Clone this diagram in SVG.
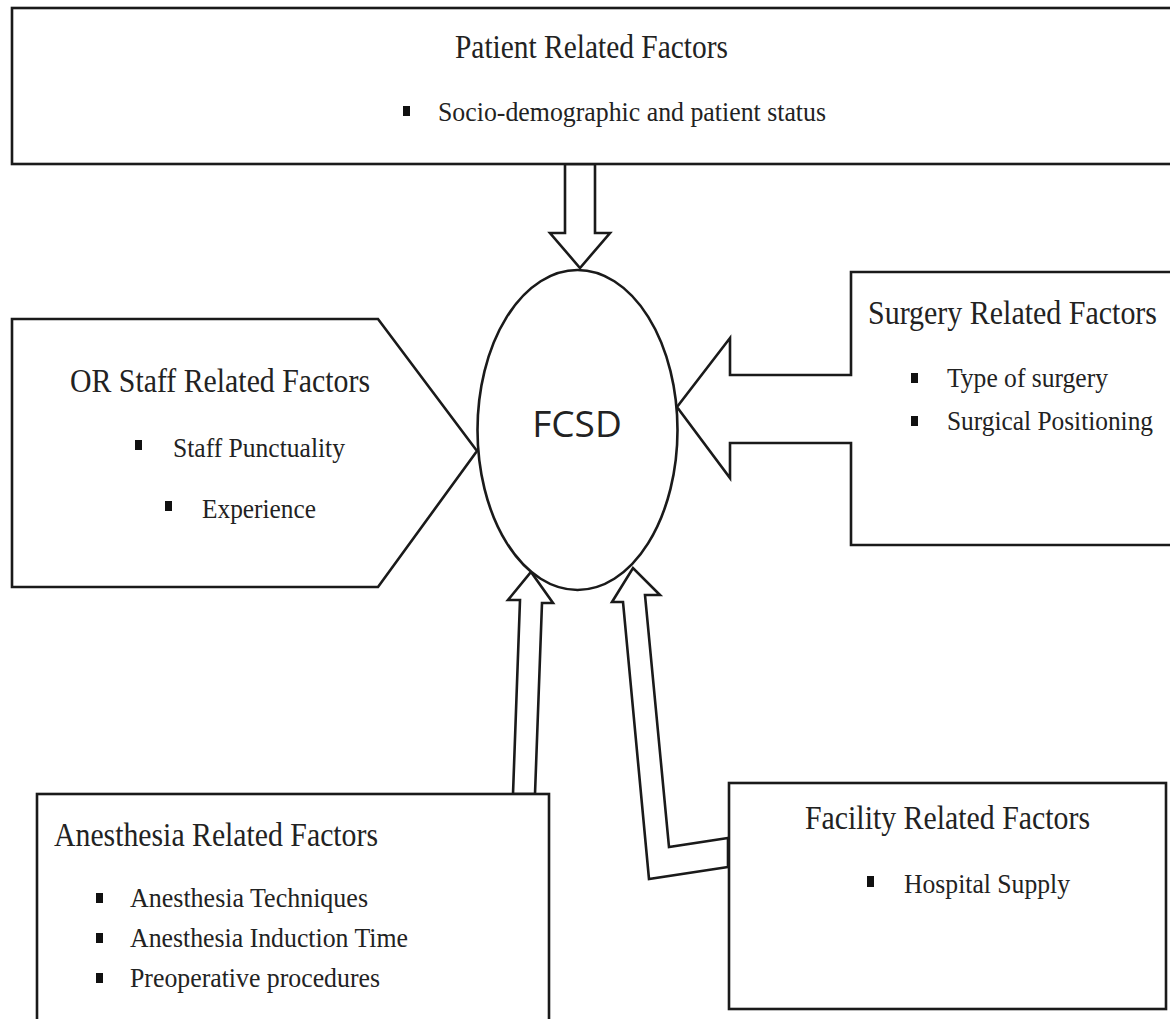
<svg xmlns="http://www.w3.org/2000/svg" width="1170" height="1019" viewBox="0 0 1170 1019">
<style>
.shape{fill:#fff;stroke:#1a1a1a;stroke-width:2.6;stroke-linejoin:miter}
.conn{fill:#fff;stroke:#1a1a1a;stroke-width:2.6;stroke-linejoin:miter}
.t{font-family:"Liberation Serif","Times New Roman",serif;font-size:34px;fill:#222}
.b{font-family:"Liberation Serif","Times New Roman",serif;font-size:28px;fill:#222}
.bul{fill:#111}
.c{font-family:"Open Sans","Liberation Sans",sans-serif;font-size:37px;fill:#222}
</style>
<rect width="1170" height="1019" fill="#fff"/>
<g id="connectors">
<polygon class="conn" points="565,164 565,233 550,233 580,268 610,233 595,233 595,164"/>
<polygon class="conn" points="513,794 520,600 508,600 531,572 553,603 542,603 535,794"/>
<polygon class="conn" points="728,867 649,879 623,602 612,602 633,568 660,595 645,595 669,847 728,838"/>
</g>
<g id="patient">
<rect class="shape" x="12" y="8" width="1170" height="156"/>
<text class="t" x="455" y="58" textLength="273" lengthAdjust="spacingAndGlyphs">Patient Related Factors</text>
<rect class="bul" x="403" y="106" width="7" height="10"/>
<text class="b" x="438" y="121" textLength="388" lengthAdjust="spacingAndGlyphs">Socio-demographic and patient status</text>
</g>
<g id="orstaff">
<polygon class="shape" points="12,319 378,319 477,451 378,587 12,587"/>
<text class="t" x="70" y="392" textLength="300" lengthAdjust="spacingAndGlyphs">OR Staff Related Factors</text>
<rect class="bul" x="135" y="440" width="7" height="10"/>
<text class="b" x="173" y="457" textLength="172" lengthAdjust="spacingAndGlyphs">Staff Punctuality</text>
<rect class="bul" x="165" y="501" width="7" height="10"/>
<text class="b" x="202" y="518" textLength="114" lengthAdjust="spacingAndGlyphs">Experience</text>
</g>
<g id="surgery">
<polygon class="shape" points="1182,272 851,272 851,375 730,375 730,338 677,407 730,478 730,443 851,443 851,545 1182,545"/>
<text class="t" x="868" y="324" textLength="289" lengthAdjust="spacingAndGlyphs">Surgery Related Factors</text>
<rect class="bul" x="911" y="373" width="7" height="10"/>
<text class="b" x="947" y="387" textLength="161" lengthAdjust="spacingAndGlyphs">Type of surgery</text>
<rect class="bul" x="911" y="416" width="7" height="10"/>
<text class="b" x="947" y="430" textLength="206" lengthAdjust="spacingAndGlyphs">Surgical Positioning</text>
</g>
<g id="fcsd">
<ellipse class="shape" cx="577.5" cy="430" rx="100" ry="160"/>
<text class="c" x="577" y="437" text-anchor="middle">FCSD</text>
</g>
<g id="anesthesia">
<rect class="shape" x="37" y="794" width="512" height="240"/>
<text class="t" x="54" y="846" textLength="324" lengthAdjust="spacingAndGlyphs">Anesthesia Related Factors</text>
<rect class="bul" x="96" y="893" width="7" height="10"/>
<text class="b" x="130" y="907" textLength="238" lengthAdjust="spacingAndGlyphs">Anesthesia Techniques</text>
<rect class="bul" x="96" y="933" width="7" height="10"/>
<text class="b" x="130" y="947" textLength="278" lengthAdjust="spacingAndGlyphs">Anesthesia Induction Time</text>
<rect class="bul" x="96" y="973" width="7" height="10"/>
<text class="b" x="130" y="987" textLength="250" lengthAdjust="spacingAndGlyphs">Preoperative procedures</text>
</g>
<g id="facility">
<rect class="shape" x="729" y="783" width="437" height="226"/>
<text class="t" x="805" y="829" textLength="285" lengthAdjust="spacingAndGlyphs">Facility Related Factors</text>
<rect class="bul" x="867" y="876" width="7" height="11"/>
<text class="b" x="904" y="893" textLength="166" lengthAdjust="spacingAndGlyphs">Hospital Supply</text>
</g>
</svg>
